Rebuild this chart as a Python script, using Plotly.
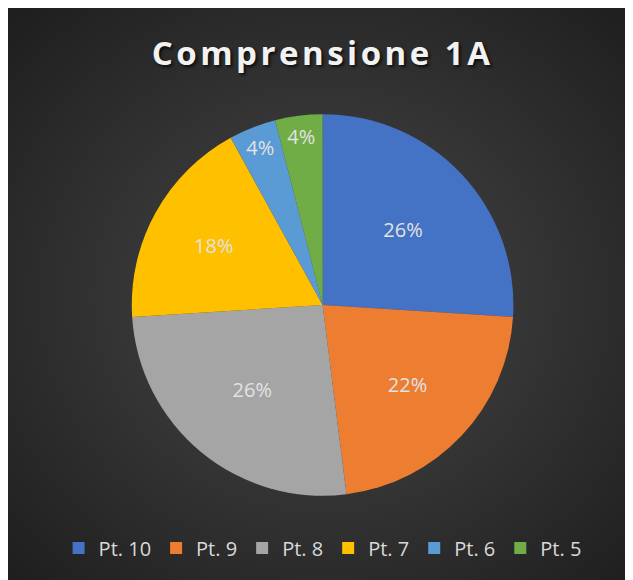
import base64
import plotly.graph_objects as go

categories = ["Pt. 10", "Pt. 9", "Pt. 8", "Pt. 7", "Pt. 6", "Pt. 5"]
values = [26, 22, 26, 18, 4, 4]
colors = ["#4472C4", "#ED7D31", "#A5A5A5", "#FFC000", "#5B9BD5", "#70AD47"]
title_text = "Comprensione 1A"

svg = (
    '<svg xmlns="http://www.w3.org/2000/svg" width="633" height="580" viewBox="0 0 633 580" preserveAspectRatio="none">'
    '<defs><radialGradient id="g" cx="50%" cy="50%" r="70%">'
    '<stop offset="0%" stop-color="#484848"/>'
    '<stop offset="100%" stop-color="#1e1e1e"/>'
    '</radialGradient></defs>'
    '<rect width="633" height="580" fill="url(#g)"/></svg>'
)
bg_src = "data:image/svg+xml;base64," + base64.b64encode(svg.encode()).decode()

fig = go.Figure(
    go.Pie(
        labels=categories,
        values=values,
        marker=dict(colors=colors, line=dict(width=0)),
        sort=False,
        direction="clockwise",
        rotation=0,
        texttemplate="%{percent:.0%}",
        textposition="inside",
        insidetextorientation="horizontal",
        textfont=dict(family="Open Sans", size=20, color="#e2e2e2"),
        hoverinfo="label+percent",
        domain=dict(x=[0.195, 0.799], y=[0.159, 0.817]),
    )
)

fig.update_layout(
    width=633,
    height=580,
    margin=dict(l=0, t=0, r=0, b=0),
    paper_bgcolor="#2f2f2f",
    plot_bgcolor="rgba(0,0,0,0)",
    uniformtext=dict(minsize=20, mode="show"),
    images=[dict(
        source=bg_src, xref="paper", yref="paper", x=0, y=1,
        sizex=1, sizey=1, xanchor="left", yanchor="top",
        sizing="stretch", layer="below",
    )],
    title=dict(
        text='<span style="letter-spacing:3.5px">' + title_text + '</span>',
        x=0.497, xanchor="center", y=0.921, yanchor="middle",
        font=dict(family="Open Sans", size=33, color="#f2f2f2", weight="bold",
                  shadow="2px 2px 3px rgba(0,0,0,0.7)"),
    ),
    legend=dict(
        orientation="h", x=0.497, xanchor="center", y=0.069, yanchor="middle",
        font=dict(family="Open Sans", size=20, color="#d9d9d9"),
        bgcolor="rgba(0,0,0,0)", itemwidth=30,
    ),
    showlegend=True,
)

fig.write_html("out.html")
